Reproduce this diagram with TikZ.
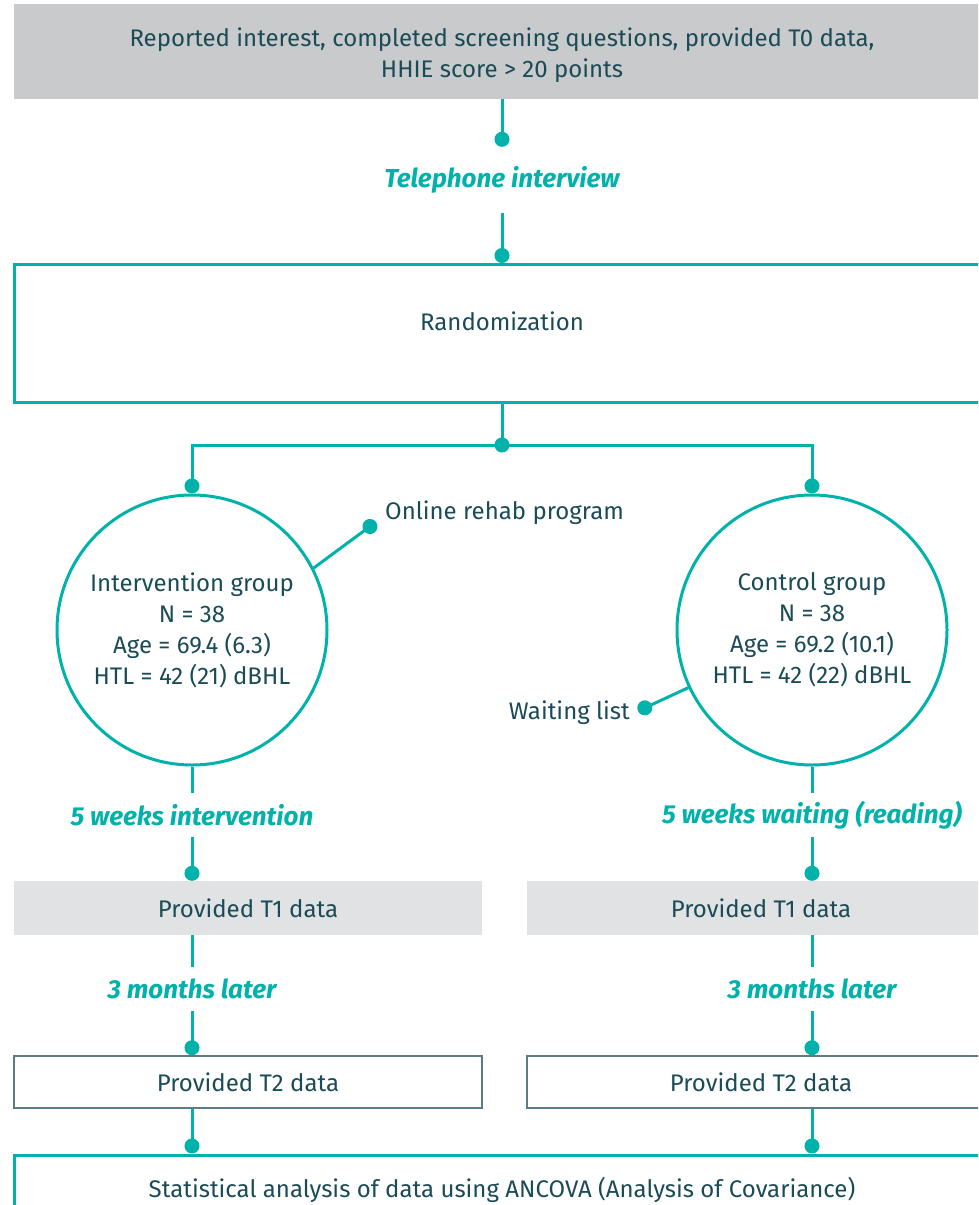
\documentclass[tikz,border=0pt]{standalone}
\usepackage{fontspec}
\setmainfont{Fira Sans}
\usetikzlibrary{arrows.meta,positioning}
\definecolor{tealline}{HTML}{00B2AA}
\definecolor{ink}{HTML}{1A4B57}
\definecolor{greydark}{HTML}{C9CACC}
\definecolor{greylight}{HTML}{E1E2E4}
\definecolor{frameline}{HTML}{5C7B82}

\begin{document}
\begin{tikzpicture}[x=1pt, y=-1pt,
    every node/.style={font=\fontsize{24}{31}\selectfont, text=ink, align=center, inner sep=0pt},
    link/.style={draw=tealline, line width=3pt},
    dot/.style={link, -{Circle[length=15pt,width=15pt]}},
    phase/.style={font=\fontsize{26}{31}\selectfont\itshape\bfseries, text=tealline, minimum height=44pt},
    wide/.style={minimum width=976pt},
    grp/.style={circle, draw=tealline, line width=3pt, minimum size=270pt},
    half/.style={minimum width=468pt, minimum height=54pt}]
    \useasboundingbox (0,0) rectangle (978,1205);
    \clip (0,0) rectangle (978,1205);

    \node[wide, fill=greydark, minimum height=95pt, text height=58pt, text depth=6pt] (top) at (502,51.5) {Reported interest, completed screening questions, provided T0 data,\\HHIE score > 20 points};
    \node[phase, minimum height=66pt] (tel) [below of=top, node distance=128.5pt] {Telephone interview};
    \node[wide, draw=tealline, line width=3pt, minimum height=138pt, text depth=24pt] (rand) [below of=tel, node distance=153.5pt] {Randomization};
    \coordinate (junc) at (502,445);

    % two arms
    \node[grp] (intv) at (192,630) {Intervention group\\N = 38\\Age = 69.4 (6.3)\\HTL = 42 (21) dBHL};
    \node[grp] (ctrl) at (812,630) {Control group\\N = 38\\Age = 69.2 (10.1)\\HTL = 42 (22) dBHL};
    \node[anchor=west] (onl) at (385,513) {Online rehab program};
    \coordinate (onldot) at (376,522);
    \node[anchor=east] (wait) at (630,713) {Waiting list};
    \coordinate (waitdot) at (638,711);

    \node[phase] (wkl) [below of=intv, node distance=185pt] {5 weeks intervention};
    \node[phase] (wkr) [below of=ctrl, node distance=185pt] {5 weeks waiting (reading)};
    \node[half, fill=greylight] (t1l) at (248,908) {Provided T1 data};
    \node[half, fill=greylight] (t1r) at (761,908) {Provided T1 data};
    \node[phase] (mol) [below of=wkl, node distance=174pt] {3 months later};
    \node[phase] (mor) [below of=wkr, node distance=174pt] {3 months later};
    \node[half, draw=frameline, line width=1.5pt, minimum height=52pt] (t2l) at (248,1082) {Provided T2 data};
    \node[half, draw=frameline, line width=1.5pt, minimum height=52pt] (t2r) at (761,1082) {Provided T2 data};
    \node[wide, draw=tealline, line width=3pt, minimum height=70pt] (stat) at (502,1190) {Statistical analysis of data using ANCOVA (Analysis of Covariance)};

    \draw[dot] (top) -- (tel);
    \draw[dot] (tel) -- (rand);
    \draw[dot, shorten >=-7.5pt] (rand) -- (junc);
    \draw[dot] (junc) -| (intv);
    \draw[dot] (junc) -| (ctrl);
    \draw[dot] (intv.27) -- (onldot);
    \draw[dot] (ctrl.205) -- (waitdot);

    \draw[link] (intv) -- (wkl);
    \draw[link] (ctrl) -- (wkr);
    \draw[dot] (wkl.south) -- (wkl.south |- t1l.north);
    \draw[dot] (wkr.south) -- (wkr.south |- t1r.north);
    \draw[link] (t1l.south -| mol) -- (mol);
    \draw[link] (t1r.south -| mor) -- (mor);
    \draw[dot] (mol.south) -- (mol.south |- t2l.north);
    \draw[dot] (mor.south) -- (mor.south |- t2r.north);
    \draw[dot] (t2l.south -| intv) -- (intv |- stat.north);
    \draw[dot] (t2r.south -| ctrl) -- (ctrl |- stat.north);
\end{tikzpicture}
\end{document}
